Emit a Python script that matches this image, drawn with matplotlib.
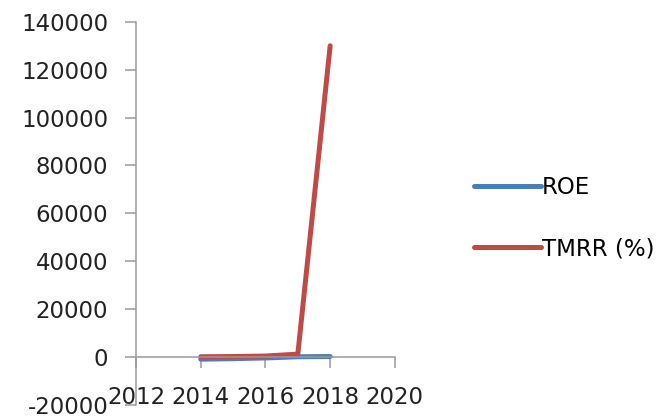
import matplotlib.pyplot as plt

plt.rcParams["axes.unicode_minus"] = False

# values
years = [2014, 2015, 2016, 2017, 2018]
roe = [-900, -700, -400, 100, 200]
tmrr = [100, 200, 400, 1200, 130000]

x_ticks = [2012, 2014, 2016, 2018, 2020]
y_ticks = list(range(-20000, 140001, 20000))

blue = "#4A7EBB"
red = "#BE4B48"
axis_grey = "#9A9A9A"

fig = plt.figure(figsize=(6.67, 4.2), dpi=100)
ax = fig.add_axes([0.204, 0.036, 0.388, 0.912])

ax.plot(years, roe, color=blue, lw=3.6, label="ROE", solid_capstyle="round")
ax.plot(years, tmrr, color=red, lw=3.6, label="TMRR (%)", solid_capstyle="round")

ax.set_xlim(2012, 2020)
ax.set_ylim(-20000, 140000)
ax.set_xticks(x_ticks)
ax.set_yticks(y_ticks)

for s in ("top", "right"):
    ax.spines[s].set_visible(False)
ax.spines["bottom"].set_position(("data", 0))
for s in ("left", "bottom"):
    ax.spines[s].set_color(axis_grey)
    ax.spines[s].set_linewidth(1.1)

ax.tick_params(axis="x", direction="out", length=8.2, width=1.1, color=axis_grey,
               pad=13, labelsize=16.5, labelcolor="#222222")
ax.tick_params(axis="y", direction="out", length=8, width=1.1, color=axis_grey,
               pad=12, labelsize=16.5, labelcolor="#222222")

fig.legend(loc="center left", bbox_to_anchor=(0.68, 0.48), frameon=False,
           fontsize=16.5, handlelength=2.9, handletextpad=0.05, labelspacing=1.65)

fig.savefig("out.png", dpi=100)
